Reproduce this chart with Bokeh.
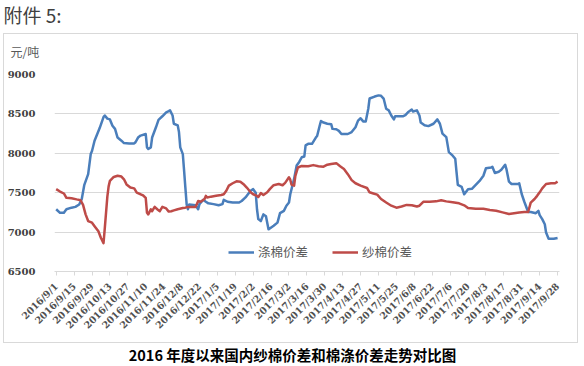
import math
import pandas as pd
from bokeh.plotting import figure
from bokeh.layouts import column, row
from bokeh.models import (FixedTicker, Range1d, Legend, LegendItem, Label, Spacer,
                          ColumnDataSource)
from bokeh.embed import file_html
from bokeh.resources import INLINE

tick_labels = ["2016/9/1", "2016/9/15", "2016/9/29", "2016/10/13", "2016/10/27",
               "2016/11/10", "2016/11/24", "2016/12/8", "2016/12/22", "2017/1/5",
               "2017/1/19", "2017/2/2", "2017/2/16", "2017/3/2", "2017/3/16",
               "2017/3/30", "2017/4/13", "2017/4/27", "2017/5/11", "2017/5/25",
               "2017/6/8", "2017/6/22", "2017/7/6", "2017/7/20", "2017/8/3",
               "2017/8/17", "2017/8/31", "2017/9/14", "2017/9/28"]
y_ticks = [6500, 7000, 7500, 8000, 8500, 9000]

# 涤棉价差 (blue)
blue_dates = ["2016-09-01", "2016-09-04", "2016-09-07", "2016-09-09", "2016-09-13", "2016-09-16",
              "2016-09-19", "2016-09-21", "2016-09-23", "2016-09-26", "2016-09-28", "2016-09-29",
              "2016-10-01", "2016-10-05", "2016-10-08", "2016-10-09", "2016-10-11", "2016-10-13",
              "2016-10-15", "2016-10-17", "2016-10-19", "2016-10-22", "2016-10-24", "2016-10-28",
              "2016-11-01", "2016-11-02", "2016-11-04", "2016-11-06", "2016-11-10", "2016-11-11",
              "2016-11-12", "2016-11-14", "2016-11-15", "2016-11-18", "2016-11-20", "2016-11-23",
              "2016-11-26", "2016-11-28", "2016-11-29", "2016-12-01", "2016-12-02", "2016-12-05",
              "2016-12-06", "2016-12-07", "2016-12-09", "2016-12-10", "2016-12-11", "2016-12-12",
              "2016-12-13", "2016-12-14", "2016-12-19", "2016-12-21", "2016-12-22", "2016-12-25",
              "2016-12-27", "2016-12-29", "2017-01-02", "2017-01-06", "2017-01-09", "2017-01-10",
              "2017-01-13", "2017-01-17", "2017-01-22", "2017-01-24", "2017-01-27", "2017-01-31",
              "2017-02-02", "2017-02-04", "2017-02-05", "2017-02-06", "2017-02-08", "2017-02-10",
              "2017-02-12", "2017-02-14", "2017-02-15", "2017-02-18", "2017-02-21", "2017-02-23",
              "2017-02-26", "2017-02-28", "2017-03-02", "2017-03-03", "2017-03-06", "2017-03-08",
              "2017-03-10", "2017-03-12", "2017-03-14", "2017-03-15", "2017-03-17", "2017-03-20",
              "2017-03-23", "2017-03-24", "2017-03-26", "2017-03-27", "2017-03-29", "2017-04-01",
              "2017-04-04", "2017-04-05", "2017-04-08", "2017-04-10", "2017-04-12", "2017-04-17",
              "2017-04-20", "2017-04-23", "2017-04-25", "2017-04-27", "2017-04-29", "2017-05-01",
              "2017-05-03", "2017-05-04", "2017-05-08", "2017-05-11", "2017-05-13", "2017-05-15",
              "2017-05-17", "2017-05-19", "2017-05-21", "2017-05-23", "2017-05-24", "2017-05-30",
              "2017-06-01", "2017-06-03", "2017-06-06", "2017-06-07", "2017-06-10", "2017-06-12",
              "2017-06-13", "2017-06-16", "2017-06-19", "2017-06-23", "2017-06-26", "2017-06-28",
              "2017-06-30", "2017-07-03", "2017-07-05", "2017-07-08", "2017-07-10", "2017-07-11",
              "2017-07-12", "2017-07-15", "2017-07-17", "2017-07-20", "2017-07-23", "2017-07-26",
              "2017-07-29", "2017-08-01", "2017-08-03", "2017-08-07", "2017-08-08", "2017-08-10",
              "2017-08-13", "2017-08-15", "2017-08-18", "2017-08-19", "2017-08-21", "2017-08-23",
              "2017-08-28", "2017-08-29", "2017-08-31", "2017-09-02", "2017-09-05", "2017-09-07",
              "2017-09-11", "2017-09-13", "2017-09-14", "2017-09-16", "2017-09-18", "2017-09-19",
              "2017-09-21", "2017-09-25", "2017-09-28"]
blue_values = [7290, 7245, 7245, 7290, 7310, 7320,
               7350, 7420, 7600, 7735, 7990, 8030,
               8160, 8320, 8460, 8480, 8440, 8430,
               8350, 8310, 8200, 8160, 8130, 8125,
               8125, 8140, 8200, 8225, 8245, 8075,
               8055, 8075, 8200, 8330, 8425, 8470,
               8520, 8535, 8545, 8480, 8375, 8355,
               8270, 8075, 7990, 7780, 7565, 7350,
               7290, 7350, 7340, 7290, 7355, 7410,
               7385, 7365, 7355, 7340, 7355, 7410,
               7385, 7375, 7375, 7395, 7440, 7525,
               7545, 7500, 7290, 7165, 7140, 7225,
               7200, 7035, 7045, 7080, 7120, 7240,
               7270, 7335, 7375, 7480, 7675, 7845,
               7890, 7950, 7960, 8100, 8120, 8120,
               8200, 8220, 8350, 8410, 8390, 8375,
               8370, 8310, 8305, 8285, 8245, 8245,
               8270, 8330, 8415, 8445, 8405, 8405,
               8565, 8695, 8720, 8735, 8730, 8695,
               8565, 8545, 8480, 8430, 8470, 8470,
               8485, 8520, 8555, 8530, 8545, 8480,
               8390, 8355, 8345, 8375, 8430, 8375,
               8250, 8205, 8015, 7970, 7930, 7760,
               7600, 7575, 7480, 7545, 7550, 7600,
               7650, 7715, 7810, 7820, 7830, 7750,
               7765, 7790, 7855, 7800, 7640, 7610,
               7610, 7620, 7480, 7385, 7255, 7255,
               7240, 7270, 7215, 7165, 7100, 6995,
               6915, 6915, 6925]

# 纱棉价差 (red)
red_dates = ["2016-09-01", "2016-09-04", "2016-09-07", "2016-09-09", "2016-09-13", "2016-09-17",
             "2016-09-20", "2016-09-22", "2016-09-24", "2016-09-26", "2016-09-29", "2016-10-01",
             "2016-10-04", "2016-10-06", "2016-10-08", "2016-10-09", "2016-10-10", "2016-10-11",
             "2016-10-12", "2016-10-13", "2016-10-16", "2016-10-19", "2016-10-22", "2016-10-24",
             "2016-10-26", "2016-10-29", "2016-11-01", "2016-11-03", "2016-11-06", "2016-11-08",
             "2016-11-10", "2016-11-11", "2016-11-12", "2016-11-14", "2016-11-15", "2016-11-17",
             "2016-11-19", "2016-11-21", "2016-11-23", "2016-11-26", "2016-11-28", "2016-11-30",
             "2016-12-02", "2016-12-05", "2016-12-09", "2016-12-11", "2016-12-13", "2016-12-19",
             "2016-12-21", "2016-12-23", "2016-12-26", "2016-12-27", "2016-12-28", "2016-12-31",
             "2017-01-04", "2017-01-08", "2017-01-10", "2017-01-12", "2017-01-14", "2017-01-17",
             "2017-01-20", "2017-01-23", "2017-01-26", "2017-01-28", "2017-01-31", "2017-02-02",
             "2017-02-05", "2017-02-06", "2017-02-08", "2017-02-10", "2017-02-13", "2017-02-15",
             "2017-02-18", "2017-02-22", "2017-02-25", "2017-02-27", "2017-03-02", "2017-03-03",
             "2017-03-04", "2017-03-06", "2017-03-07", "2017-03-09", "2017-03-12", "2017-03-17",
             "2017-03-21", "2017-03-25", "2017-03-29", "2017-04-01", "2017-04-04", "2017-04-08",
             "2017-04-11", "2017-04-14", "2017-04-17", "2017-04-20", "2017-04-23", "2017-04-27",
             "2017-05-02", "2017-05-04", "2017-05-07", "2017-05-10", "2017-05-13", "2017-05-17",
             "2017-05-21", "2017-05-25", "2017-05-29", "2017-06-02", "2017-06-06", "2017-06-10",
             "2017-06-12", "2017-06-15", "2017-06-20", "2017-06-25", "2017-06-29", "2017-07-03",
             "2017-07-08", "2017-07-13", "2017-07-17", "2017-07-20", "2017-07-26", "2017-08-01",
             "2017-08-06", "2017-08-11", "2017-08-16", "2017-08-21", "2017-08-25", "2017-08-29",
             "2017-09-02", "2017-09-05", "2017-09-07", "2017-09-10", "2017-09-12", "2017-09-14",
             "2017-09-16", "2017-09-19", "2017-09-23", "2017-09-26", "2017-09-28"]
red_values = [7545, 7515, 7490, 7435, 7430, 7415,
              7405, 7345, 7225, 7140, 7120, 7075,
              7010, 6925, 6860, 7050, 7250, 7450,
              7580, 7650, 7700, 7715, 7705, 7670,
              7605, 7565, 7555, 7500, 7480, 7465,
              7435, 7245, 7225, 7290, 7265, 7320,
              7290, 7265, 7320, 7300, 7260, 7265,
              7275, 7290, 7305, 7310, 7320, 7320,
              7395, 7385, 7420, 7460, 7440, 7450,
              7460, 7470, 7480, 7525, 7590, 7620,
              7645, 7640, 7600, 7565, 7505, 7480,
              7460, 7445, 7495, 7470, 7505, 7545,
              7595, 7610, 7595, 7625, 7695, 7665,
              7600, 7590, 7715, 7820, 7840, 7835,
              7850, 7835, 7830, 7855, 7865, 7875,
              7835, 7800, 7735, 7660, 7620, 7590,
              7560, 7505, 7490, 7475, 7420, 7375,
              7335, 7310, 7325, 7345, 7340, 7325,
              7335, 7385, 7385, 7390, 7405, 7390,
              7380, 7365, 7340, 7305, 7295, 7295,
              7280, 7270, 7250, 7230, 7240, 7250,
              7255, 7255, 7375, 7420, 7460, 7505,
              7555, 7610, 7620, 7620, 7640]

series_names = ["涤棉价差", "纱棉价差"]
series_colors = ["#4a7ebb", "#be4b48"]
header_text = "附件 5:"
unit_text = "元/吨"
caption_text = "2016 年度以来国内纱棉价差和棉涤价差走势对比图"

DAY = 86400000.0
tick_ts = pd.to_datetime(tick_labels, format="%Y/%m/%d")
tick_ms = [float(t.value // 10**6) for t in tick_ts]

CJK = "Noto Sans CJK SC"
NUM = "DejaVu Serif"
BORDER = "1px solid #d9d9d9"


def text_strip(w, h, txt, x, y, size, color, bold=False, align="left", styles=None):
    f = figure(width=w, height=h, output_backend="svg", toolbar_location=None,
               x_range=Range1d(0, w), y_range=Range1d(0, h),
               min_border=0, min_border_left=0, min_border_right=0,
               min_border_top=0, min_border_bottom=0)
    f.axis.visible = False
    f.grid.visible = False
    f.outline_line_color = None
    f.background_fill_color = "white"
    f.border_fill_color = "white"
    if styles:
        f.styles = styles
    f.add_layout(Label(x=x, y=y, text=txt, text_font=CJK, text_font_size=size,
                       text_font_style="bold" if bold else "normal",
                       text_color=color, text_baseline="middle", text_align=align))
    return f


header = text_strip(584, 33, header_text, 3, 19, "19px", "#404040")

MW = 575
UH = 28
unit_strip = text_strip(MW, UH, unit_text, 6, 11, "12px", "#595959",
                        styles={"border-top": BORDER, "border-left": BORDER,
                                "border-right": BORDER, "box-sizing": "border-box"})

MH = 282
p = figure(width=MW, height=MH, output_backend="svg", toolbar_location=None,
           x_axis_type="datetime",
           x_range=Range1d(tick_ms[0] - 1.32 * DAY, tick_ms[-1] + 1.5 * DAY),
           y_range=Range1d(6500, 9000),
           min_border_left=46, min_border_right=20, min_border_top=13, min_border_bottom=72)
p.styles = {"border-bottom": BORDER, "border-left": BORDER,
            "border-right": BORDER, "box-sizing": "border-box"}
p.outline_line_color = None
p.background_fill_color = "white"
p.border_fill_color = "white"

src_b = ColumnDataSource(dict(x=pd.to_datetime(blue_dates), y=blue_values))
src_r = ColumnDataSource(dict(x=pd.to_datetime(red_dates), y=red_values))
rb = p.line("x", "y", source=src_b, line_color=series_colors[0], line_width=2.5, line_join="round")
rr = p.line("x", "y", source=src_r, line_color=series_colors[1], line_width=2.5, line_join="round")

xa = p.xaxis[0]
xa.ticker = FixedTicker(ticks=tick_ms)
xa.major_label_overrides = {ms: lab for ms, lab in zip(tick_ms, tick_labels)}
xa.major_label_orientation = math.pi / 4
xa.major_label_text_font = NUM
xa.major_label_text_font_size = "9.5px"
xa.major_label_text_font_style = "bold"
xa.major_label_text_color = "#505050"
xa.major_label_standoff = 9
xa.axis_line_color = "#d9d9d9"
xa.major_tick_line_color = "#d9d9d9"
xa.major_tick_out = 4
xa.major_tick_in = 0
xa.minor_tick_line_color = None

ya = p.yaxis[0]
ya.ticker = FixedTicker(ticks=y_ticks)
ya.axis_line_color = None
ya.major_tick_line_color = None
ya.minor_tick_line_color = None
ya.major_label_standoff = 13
ya.major_label_text_font = NUM
ya.major_label_text_font_style = "bold"
ya.major_label_text_font_size = "10px"
ya.major_label_text_color = "#404040"

p.xgrid.grid_line_color = None
p.ygrid.ticker = FixedTicker(ticks=y_ticks)
p.ygrid.grid_line_color = "#d9d9d9"
p.ygrid.grid_line_width = 1

legend = Legend(items=[LegendItem(label=series_names[0], renderers=[rb]),
                       LegendItem(label=series_names[1], renderers=[rr])],
                orientation="horizontal", location=(174, 10),
                padding=0, margin=0, spacing=24,
                glyph_width=26, glyph_height=16, label_height=16, label_standoff=4,
                label_text_font=CJK, label_text_font_size="12.5px",
                label_text_color="#595959",
                border_line_color=None, background_fill_alpha=0)
p.add_layout(legend)

footer = text_strip(584, 23, caption_text, 292, 12, "14.5px", "#000000", bold=True, align="center")

boxed = column(row(unit_strip), row(p))
layout = column(header, row(Spacer(width=3, height=UH + MH), boxed), footer)
open("out.html", "w").write(file_html(layout, INLINE))
